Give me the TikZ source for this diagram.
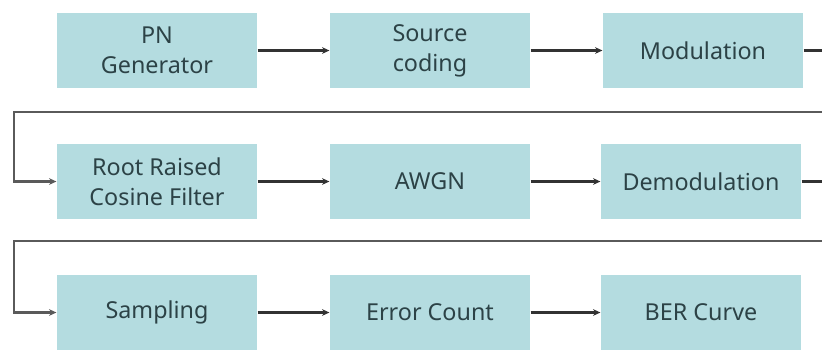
\documentclass[tikz,border=0pt]{standalone}
\usepackage{fontspec}
\setmainfont{Noto Sans}
\usetikzlibrary{arrows.meta}
\definecolor{boxfill}{RGB}{180,220,224}
\definecolor{boxtext}{RGB}{44,66,70}
\definecolor{linecol}{RGB}{50,50,50}
\definecolor{sepcol}{RGB}{90,90,90}
\begin{document}
\begin{tikzpicture}[x=0.75pt,y=-0.75pt,
  blk/.style={fill=boxfill,draw=none,minimum width=150.5pt,minimum height=56pt,
    inner sep=0pt,align=center,font=\fontsize{17.5pt}{22.5pt}\selectfont,text=boxtext},
  conn/.style={draw=linecol,line width=1.6pt,-{Stealth[length=5.5pt,width=5pt]}},
  sep/.style={draw=sepcol,line width=2pt,-{Stealth[length=5.5pt,width=5pt]}},
  wire/.style={draw=linecol,line width=1.6pt}]
\useasboundingbox (0,0) rectangle (822,351);
\node[blk] (pn)  at (157,50.5) {PN\\Generator};
\node[blk] (src) at (430,50.5) {Source\\coding};
\node[blk] (mod) at (703,50.5) {Modulation};
\node[blk] (rrc) at (157,181.5) {Root Raised\\Cosine Filter};
\node[blk] (awgn) at (430,181.5) {AWGN};
\node[blk] (dem) at (701,181.5) {Demodulation};
\node[blk] (smp) at (157,312.5) {Sampling};
\node[blk] (err) at (430,312.5) {Error Count};
\node[blk] (ber) at (701,312.5) {BER Curve};
\coordinate (e1) at (822,50.5);
\coordinate (r1) at (822,112);
\coordinate (l1) at (14,112);
\coordinate (e2) at (822,181.5);
\coordinate (r2) at (822,241);
\coordinate (l2) at (14,241);
\draw[conn] (pn) -- (src);
\draw[conn] (src) -- (mod);
\draw[wire] (mod.east) -- (e1);
\draw[sep] (r1) -- (l1) |- (rrc.west);
\draw[conn] (rrc) -- (awgn);
\draw[conn] (awgn) -- (dem);
\draw[wire] (dem.east) -- (e2);
\draw[sep] (r2) -- (l2) |- (smp.west);
\draw[conn] (smp) -- (err);
\draw[conn] (err) -- (ber);
\end{tikzpicture}
\end{document}
